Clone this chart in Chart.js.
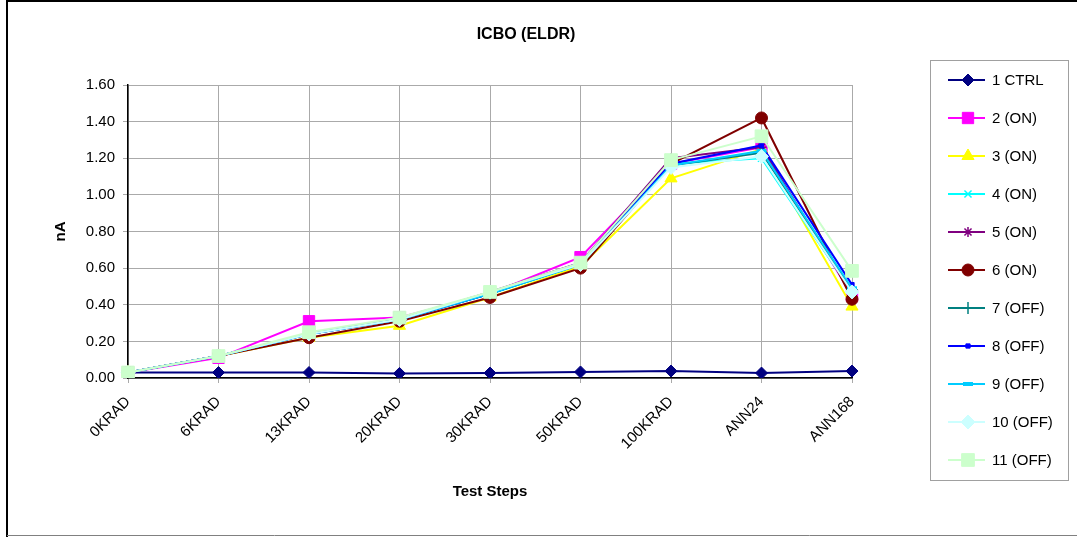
<!DOCTYPE html>
<html>
<head>
<meta charset="utf-8">
<script src="https://cdn.jsdelivr.net/npm/chart.js@4/dist/chart.umd.min.js"></script>
<style>
  body { margin: 0; background: #fff; }
  #wrap { width: 1077px; height: 537px; }
</style>
</head>
<body>
<div id="wrap"><canvas id="icboChart" width="1077" height="537"></canvas></div>
<script>
const steps = ["0KRAD", "6KRAD", "13KRAD", "20KRAD", "30KRAD", "50KRAD", "100KRAD", "ANN24", "ANN168"];
const yTicks = [0, 0.2, 0.4, 0.6, 0.8, 1.0, 1.2, 1.4, 1.6];

const ctrl1  = [0.030, 0.030, 0.030, 0.025, 0.027, 0.033, 0.038, 0.027, 0.038];
const on2    = [0.030, 0.110, 0.310, 0.330, 0.460, 0.660, 1.170, 1.260, 0.450];
const on3    = [0.030, 0.120, 0.220, 0.285, 0.440, 0.610, 1.090, 1.250, 0.390];
const on4    = [0.030, 0.120, 0.240, 0.320, 0.460, 0.620, 1.170, 1.200, 0.470];
const on5    = [0.030, 0.120, 0.240, 0.320, 0.470, 0.630, 1.200, 1.260, 0.460];
const on6    = [0.030, 0.120, 0.220, 0.310, 0.440, 0.600, 1.170, 1.420, 0.430];
const off7   = [0.030, 0.120, 0.240, 0.320, 0.460, 0.620, 1.160, 1.230, 0.480];
const off8   = [0.030, 0.120, 0.240, 0.320, 0.460, 0.630, 1.170, 1.270, 0.510];
const off9   = [0.030, 0.120, 0.240, 0.320, 0.460, 0.620, 1.160, 1.240, 0.490];
const off10  = [0.030, 0.120, 0.240, 0.320, 0.470, 0.620, 1.150, 1.210, 0.470];
const off11  = [0.030, 0.120, 0.250, 0.330, 0.470, 0.630, 1.190, 1.320, 0.585];

const seriesNames = ["1 CTRL", "2 (ON)", "3 (ON)", "4 (ON)", "5 (ON)", "6 (ON)", "7 (OFF)", "8 (OFF)", "9 (OFF)", "10 (OFF)", "11 (OFF)"];
const seriesData = [ctrl1, on2, on3, on4, on5, on6, off7, off8, off9, off10, off11];
const seriesColors = ["#000080", "#FF00FF", "#FFFF00", "#00FFFF", "#800080", "#800000", "#008080", "#0000FF", "#00CCFF", "#CCFFFF", "#CCFFCC"];
const markers = [
  { style: "rectRot", r: 6, bw: 1 },
  { style: "rect", r: 8, bw: 1 },
  { style: "triangle", r: 7, bw: 1 },
  { style: "crossRot", r: 5, bw: 1.5 },
  { style: "star", r: 5, bw: 1.5 },
  { style: "circle", r: 6, bw: 1 },
  { style: "cross", r: 6, bw: 1.5 },
  { style: "rect", r: 3, bw: 1 },
  { style: "line", r: 5, bw: 4 },
  { style: "rectRot", r: 7, bw: 1 },
  { style: "rect", r: 9, bw: 1 }
];

const FONT = "Arial, 'Liberation Sans', sans-serif";

const datasets = seriesNames.map((name, i) => ({
  label: name,
  data: seriesData[i],
  borderColor: seriesColors[i],
  backgroundColor: seriesColors[i],
  borderWidth: 2,
  pointStyle: markers[i].style,
  pointRadius: markers[i].r,
  pointBorderWidth: markers[i].bw,
  pointBackgroundColor: seriesColors[i],
  pointBorderColor: seriesColors[i],
  tension: 0,
  order: -i
}));

// frame, title and boxed legend like the spreadsheet chart
const decorations = {
  id: "decorations",
  afterDraw(chart) {
    const c = chart.ctx;
    c.save();
    c.strokeStyle = "#000";
    c.lineWidth = 2;
    c.beginPath();
    c.moveTo(7, 537);
    c.lineTo(7, 1);
    c.lineTo(1077, 1);
    c.stroke();
    c.strokeStyle = "#808080";
    c.lineWidth = 1;
    c.beginPath();
    c.moveTo(7, 535.5);
    c.lineTo(1077, 535.5);
    c.stroke();

    c.fillStyle = "#000";
    c.font = "bold 16px " + FONT;
    c.textAlign = "center";
    c.textBaseline = "middle";
    c.fillText("ICBO (ELDR)", 526, 35);

    c.strokeStyle = "#a0a0a0";
    c.lineWidth = 1;
    c.strokeRect(930.5, 60.5, 138, 420);

    c.font = "15px " + FONT;
    c.textAlign = "left";
    chart.data.datasets.forEach((ds, i) => {
      const y = 80 + i * 38;
      c.strokeStyle = ds.borderColor;
      c.lineWidth = 2;
      c.beginPath();
      c.moveTo(948, y);
      c.lineTo(985, y);
      c.stroke();
      c.fillStyle = ds.pointBackgroundColor;
      c.strokeStyle = ds.pointBorderColor;
      c.lineWidth = ds.pointBorderWidth;
      Chart.helpers.drawPoint(c, { pointStyle: ds.pointStyle, radius: ds.pointRadius, rotation: 0, borderWidth: ds.pointBorderWidth }, 968, y);
      c.fillStyle = "#000";
      c.fillText(ds.label, 992, y + 1);
    });
    c.restore();
  }
};

new Chart(document.getElementById("icboChart").getContext("2d"), {
  type: "line",
  data: { labels: steps, datasets: datasets },
  options: {
    responsive: false,
    animation: false,
    layout: { padding: { left: 44, right: 225, top: 85, bottom: 30 } },
    plugins: {
      legend: { display: false },
      title: { display: false },
      tooltip: { enabled: false }
    },
    scales: {
      x: {
        type: "category",
        offset: false,
        grid: { color: "#aaa", lineWidth: 1, drawTicks: true, tickLength: 5, offset: false },
        border: { color: "#000", width: 1.5 },
        ticks: {
          minRotation: 45, maxRotation: 45, autoSkip: false,
          color: "#000", font: { family: FONT, size: 15 }, padding: 10
        },
        title: { display: true, text: "Test Steps", color: "#000", font: { family: FONT, size: 15, weight: "bold" }, padding: { top: 0, bottom: 6 } },
        afterFit(scale) { scale.height = 537 - 378 - 30; }
      },
      y: {
        min: 0, max: 1.6,
        afterBuildTicks(scale) { scale.ticks = yTicks.map(v => ({ value: v })); },
        grid: { color: "#aaa", lineWidth: 1, drawTicks: true, tickLength: 5 },
        border: { color: "#000", width: 1.5 },
        ticks: {
          color: "#000", font: { family: FONT, size: 15 }, padding: 8,
          callback: v => Number(v).toFixed(2)
        },
        title: { display: true, text: "nA", color: "#000", font: { family: FONT, size: 15, weight: "bold" }, padding: { top: 8, bottom: 0 } },
        afterFit(scale) { scale.width = 128 - 44; }
      }
    }
  },
  plugins: [decorations]
});
</script>
</body>
</html>
